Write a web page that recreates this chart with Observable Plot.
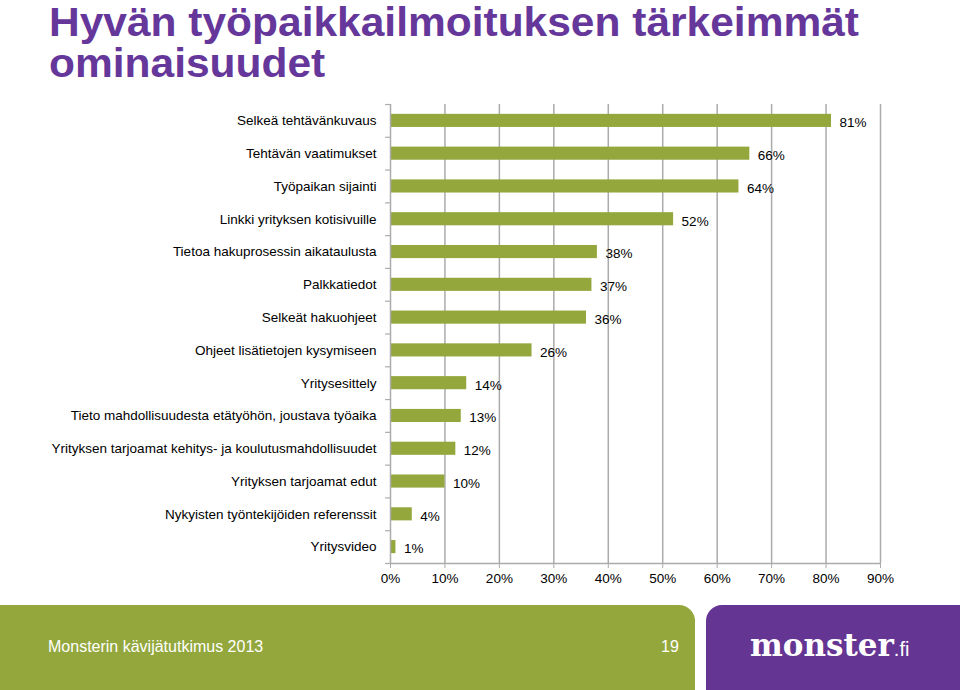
<!DOCTYPE html>
<html>
<head>
<meta charset="utf-8">
<script src="https://cdn.jsdelivr.net/npm/d3@7"></script>
<script src="https://cdn.jsdelivr.net/npm/@observablehq/plot@0.6"></script>
<style>
  html, body { margin: 0; padding: 0; background: #fff; }
  body { width: 960px; height: 690px; position: relative; overflow: hidden; font-family: "Liberation Sans", Arial, sans-serif; }
  #title { position: absolute; left: 49px; top: 2px; color: #66379a; font-weight: bold; font-size: 40px; line-height: 41px; letter-spacing: 0px; transform-origin: left top; white-space: nowrap; }
  #chart { position: absolute; left: 0; top: 0; }
  #green { position: absolute; left: 0; top: 605px; width: 695px; height: 85px; background: #93a73d; border-top-right-radius: 16px; }
  #purple { position: absolute; left: 706px; top: 605px; width: 254px; height: 85px; background: #653594; border-top-left-radius: 16px; }
  #foot { position: absolute; left: 48px; top: 638px; color: #fff; font-size: 16px; }
  #page { position: absolute; left: 661px; top: 638px; color: #fff; font-size: 16px; }
  #logo { position: absolute; left: 750px; top: 627px; color: #fff; font-family: "DejaVu Serif", serif; font-weight: bold; font-size: 31px; letter-spacing: 0px; }
  #logo span { font-family: "Liberation Sans", Arial, sans-serif; font-weight: normal; font-size: 20px; }
</style>
</head>
<body>
<div id="chart"></div>
<div id="title">Hyvän työpaikkailmoituksen tärkeimmät<br>ominaisuudet</div>
<div id="green"></div>
<div id="purple"></div>
<div id="foot">Monsterin kävijätutkimus 2013</div>
<div id="page">19</div>
<div id="logo">monster<span>.fi</span></div>
<script>
const categories = [
  "Selkeä tehtävänkuvaus",
  "Tehtävän vaatimukset",
  "Työpaikan sijainti",
  "Linkki yrityksen kotisivuille",
  "Tietoa hakuprosessin aikataulusta",
  "Palkkatiedot",
  "Selkeät hakuohjeet",
  "Ohjeet lisätietojen kysymiseen",
  "Yritysesittely",
  "Tieto mahdollisuudesta etätyöhön, joustava työaika",
  "Yrityksen tarjoamat kehitys- ja koulutusmahdollisuudet",
  "Yrityksen tarjoamat edut",
  "Nykyisten työntekijöiden referenssit",
  "Yritysvideo"
];
const values = [81, 66, 64, 52, 38, 37, 36, 26, 14, 13, 12, 10, 4, 1];
const xTicks = [0, 10, 20, 30, 40, 50, 60, 70, 80, 90];

const data = categories.map((c, i) => ({category: c, value: values[i]}));

const W = 960, H = 600;
const mTop = 104, mBottom = 37, mLeft = 390, mRight = 80;
const step = (H - mTop - mBottom) / categories.length;
const grid = "#ababab";

const chart = Plot.plot({
  width: W,
  height: H,
  marginTop: mTop,
  marginBottom: mBottom,
  marginLeft: mLeft,
  marginRight: mRight,
  style: { fontFamily: "Liberation Sans, Arial, sans-serif", fontSize: "13.5px", color: "#000", background: "transparent" },
  x: { domain: [0, 90], ticks: xTicks, tickFormat: d => d + "%", label: null },
  y: { domain: categories, paddingInner: 0.6, paddingOuter: 0.3, round: false, label: null },
  marks: [
    Plot.ruleX(xTicks.filter(d => d > 0), { stroke: grid, strokeWidth: 1.5 }),
    Plot.barX(data, { y: "category", x: "value", fill: "#93a73d" }),
    Plot.ruleX([0], { stroke: grid, strokeWidth: 1.5 }),
    Plot.ruleY([categories[categories.length - 1]], { dy: step / 2, x1: 0, x2: 90, stroke: grid, strokeWidth: 1.5 }),
    // category boundary ticks on the left axis
    Plot.ruleY(categories, { y: d => d, dy: -step / 2, x1: -0.9, x2: 0, stroke: grid, strokeWidth: 1.2 }),
    Plot.ruleY([categories[categories.length - 1]], { dy: step / 2, x1: -0.9, x2: 0, stroke: grid, strokeWidth: 1.2 }),
    Plot.axisX({ ticks: xTicks, tickFormat: d => d + "%", tickSize: 5, tickPadding: 5, stroke: grid, fontSize: 13.5, fill: "#000", label: null, anchor: "bottom" }),
    Plot.axisY({ tickSize: 0, tickPadding: 14, fontSize: 13.5, fill: "#000", label: null }),
    Plot.text(data, { y: "category", x: "value", text: d => d.value + "%", dx: 8, dy: 2, textAnchor: "start", fontSize: 13.5, fill: "#000" })
  ]
});
document.getElementById("chart").appendChild(chart);

// fit title width to the reference span (x 50 → 858)
const t = document.getElementById("title");
const w = t.getBoundingClientRect().width;
const target = 810;
t.style.transform = "scaleX(" + Math.min(1.25, Math.max(0.8, target / w)) + ")";
</script>
</body>
</html>
